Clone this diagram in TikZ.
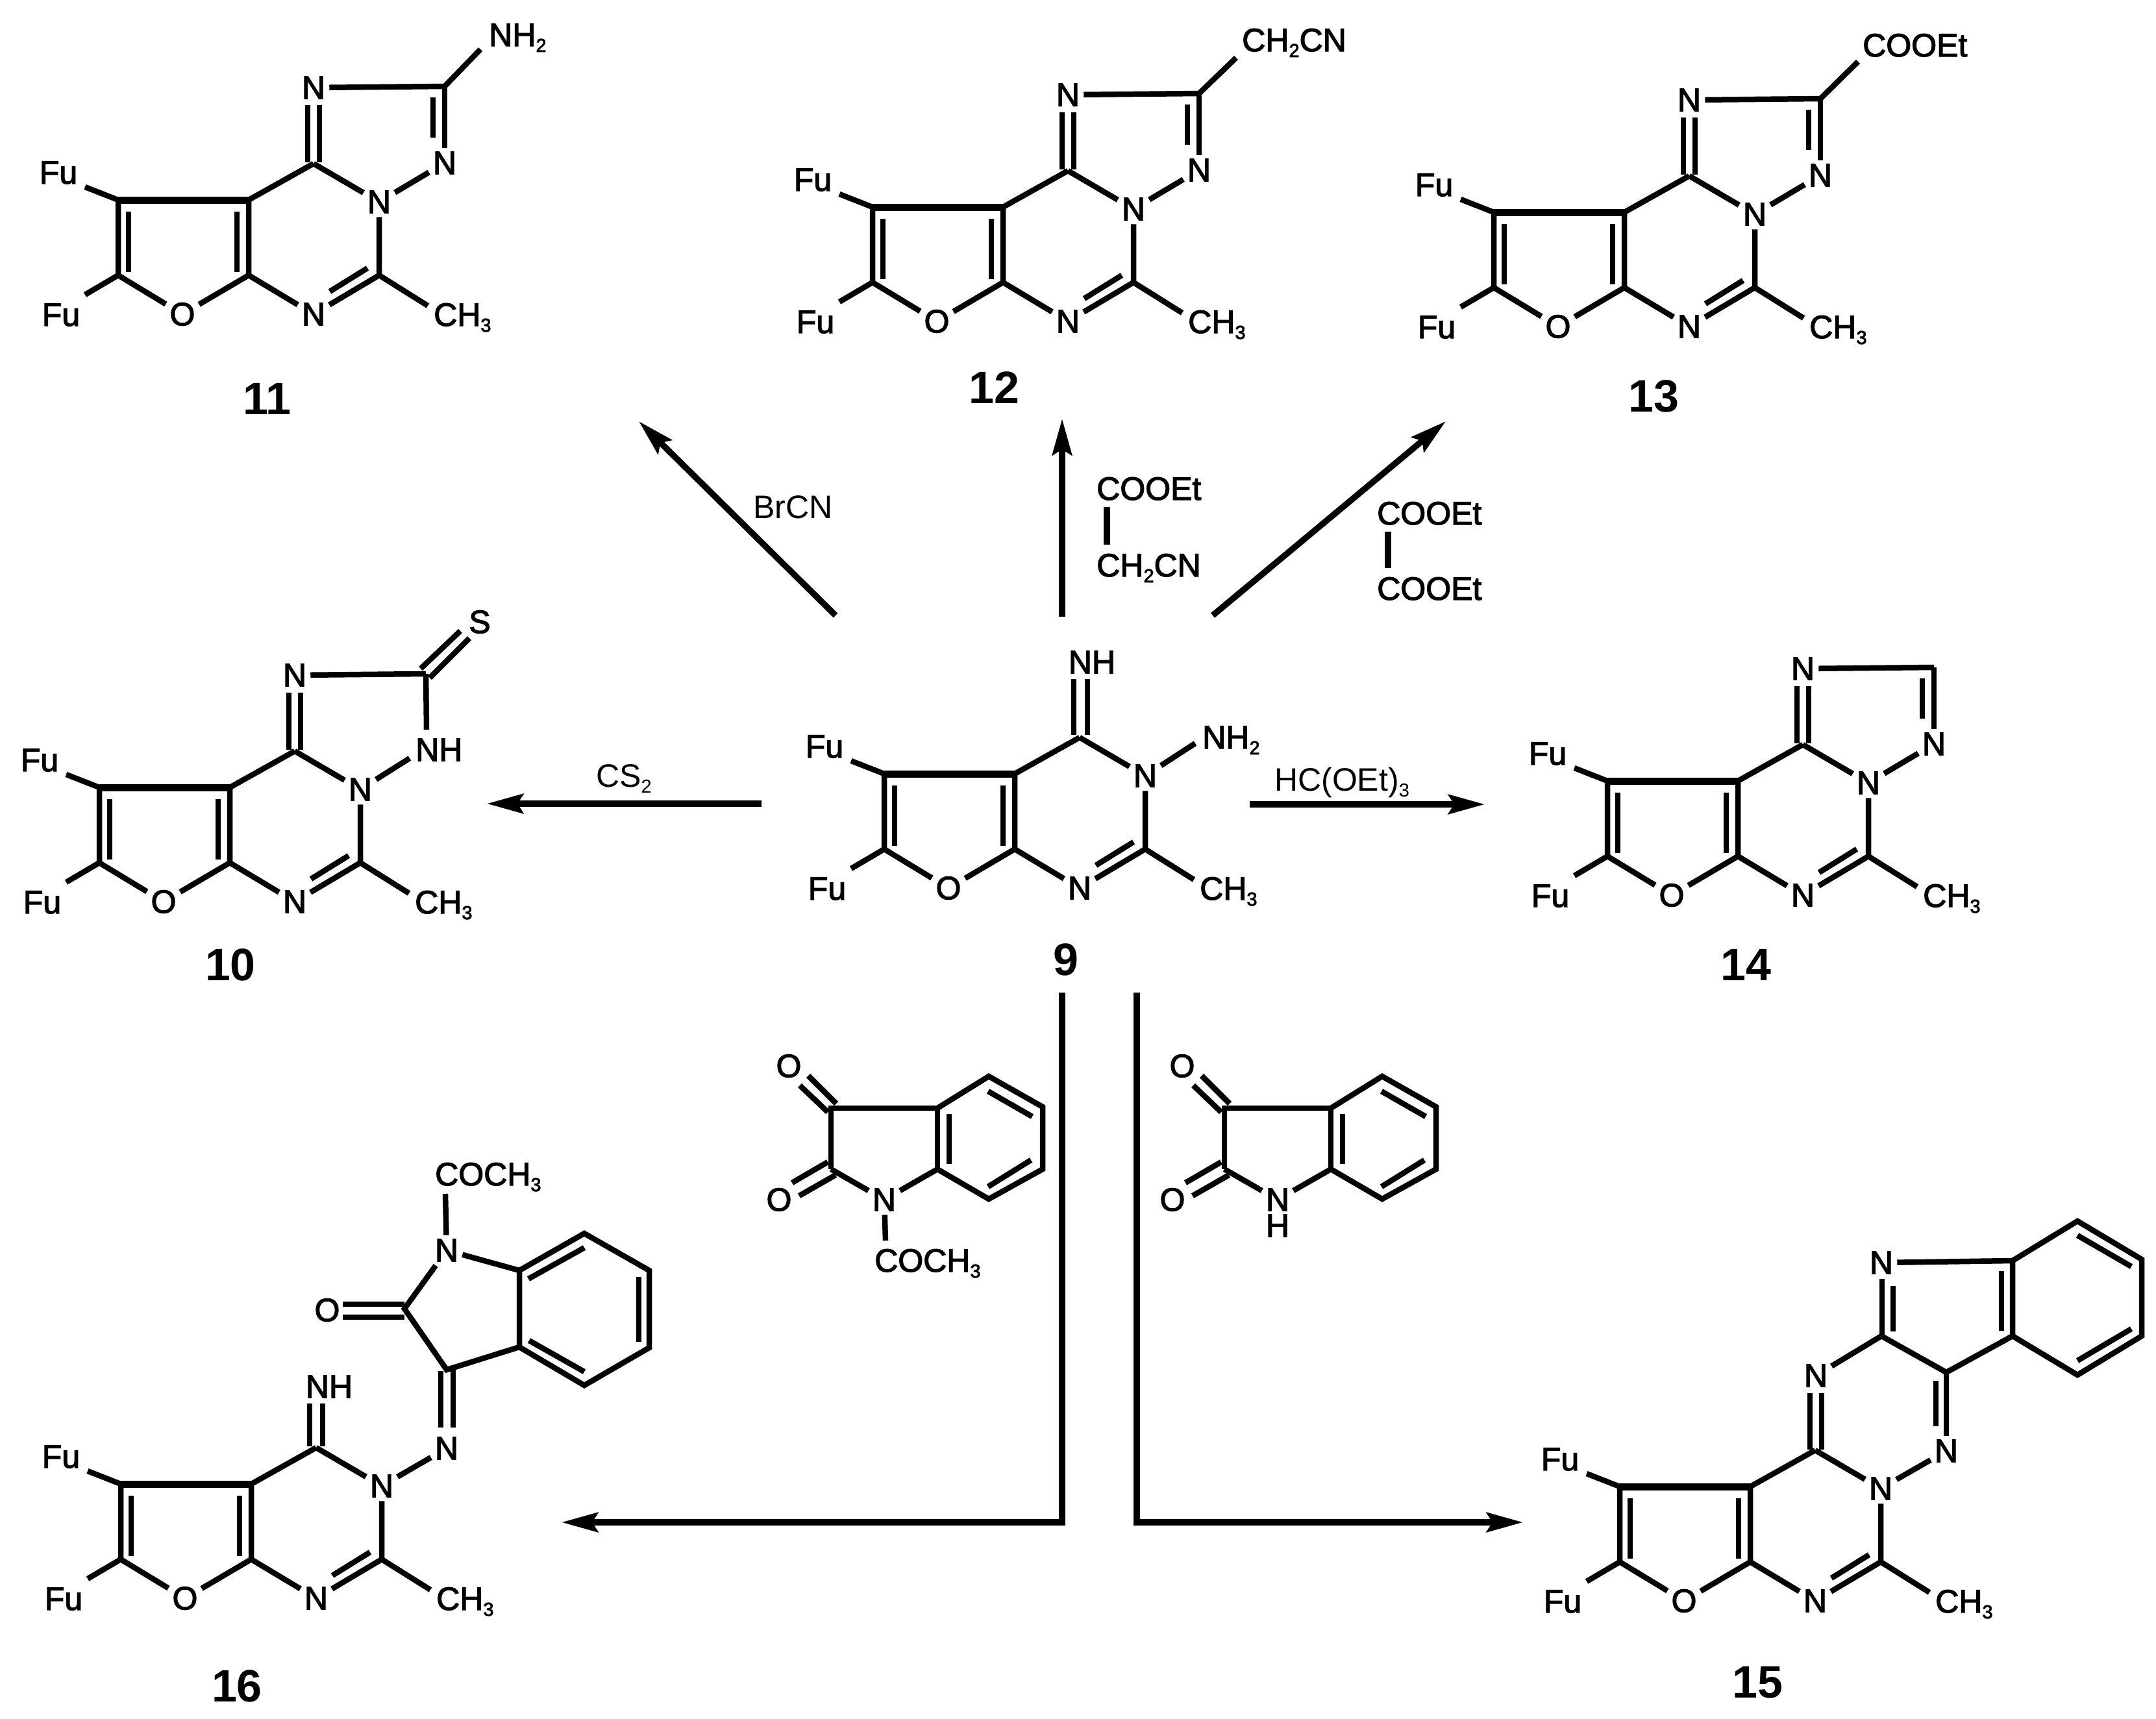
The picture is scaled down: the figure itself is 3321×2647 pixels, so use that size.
\documentclass[tikz,border=0pt]{standalone}
\usepackage{fontspec}
\usetikzlibrary{arrows.meta}
\newfontfamily\atomf[FakeBold=2.5]{Liberation Sans}
\newfontfamily\regf{Liberation Sans}
\newfontfamily\numf{Liberation Sans Bold}
\newcommand\lowd[1]{\raisebox{-9pt}{\fontsize{29}{30}\selectfont #1}}
\tikzset{
  bond/.style={line width=8.5pt,line join=miter,line cap=butt},
  heavy/.style={line width=11pt,line join=miter,line cap=butt},
  atom/.style={font=\fontsize{50}{60}\selectfont\atomf,inner sep=6pt},
  lab/.style={font=\fontsize{50}{60}\selectfont\atomf,inner sep=0pt,anchor=base west},
  reag/.style={font=\fontsize{50}{60}\selectfont\regf,inner sep=0pt,anchor=base west},
  num/.style={font=\fontsize{70}{80}\selectfont\numf,inner sep=0pt,anchor=base},
  rxn/.style={line width=9.5pt,line cap=butt,line join=miter,-{Stealth[length=56pt,width=30pt,inset=9pt]}}
}
% furo[2,3-d]pyrimidine core: prefix, x, y of the upper left ring carbon
\newcommand\core[3]{%
\begin{scope}[shift={(#2,#3)}]
  \coordinate (#1a) at (0,0);
  \coordinate (#1b) at (201,0);
  \coordinate (#1c) at (0,116);
  \coordinate (#1d) at (201,116);
  \coordinate (#1e) at (402,116);
  \coordinate (#1f) at (301,-56);
  \coordinate (#1fa) at (-51,-20);
  \coordinate (#1fb) at (-51,146);
  \coordinate (#1me) at (477,163);
  \node[atom] (#1O) at (99,176) {O};
  \node[atom] (#1Nb) at (301,176) {N};
  \node[atom] (#1Nc) at (402,3) {N};
  \node[atom] (#1Fa) at (-92,-42) {Fu};
  \node[atom] (#1Fb) at (-88,177) {Fu};
  \node[lab] (#1Me) at (486,194) {CH\lowd{3}};
  \draw[heavy] (#1a) -- (#1b);
  \draw[bond] (#1fa) -- (#1a) -- (#1c) -- (#1fb);
  \draw[bond] (#1c) -- (#1O);
  \draw[bond] (#1O) -- (#1d) -- (#1Nb);
  \draw[bond] (#1f) -- (#1b) -- (#1d);
  \draw[bond] (#1Nc) -- (#1f);
  \draw[bond] (#1Nc) -- (#1e) -- (#1me);
  \draw[bond] (#1Nb) -- (#1e);
  \draw[bond] (16,18) -- (16,111);
  \draw[bond] (183,18) -- (183,111);
  \draw[bond] (384,105) -- (326,141);
\end{scope}}
% the five-membered ring's upper part: N, C and the C=N double bond
\newcommand\triaz[3]{%
\begin{scope}[shift={(#2,#3)}]
  \node[atom] (#1Nt) at (301,-173) {N};
  \coordinate (#1g) at (503,-175);
  \draw[bond] (292,-58) -- (292,-146);
  \draw[bond] (310,-58) -- (310,-146);
  \draw[bond] (#1Nt) -- (#1g);
\end{scope}}
\newcommand\triazN[3]{%
\begin{scope}[shift={(#2,#3)}]
  \node[atom] (#1Nr) at (503,-57) {N};
  \draw[bond] (#1g) -- (#1Nr);
  \draw[bond] (#1Nc) -- (#1Nr);
  \draw[bond] (485,-158) -- (485,-96);
\end{scope}}
% isatin fragment: prefix, x, y of C3
\newcommand\isatin[3]{%
\begin{scope}[shift={(#2,#3)}]
  \coordinate (#1c3) at (0,0);
  \coordinate (#1c3a) at (164,0);
  \coordinate (#1c2) at (0,94);
  \coordinate (#1c7a) at (164,94);
  \coordinate (#1c4) at (243,-49);
  \coordinate (#1c5) at (326,-2);
  \coordinate (#1c6) at (326,94);
  \coordinate (#1c7) at (243,140);
  \node[atom] (#1N) at (82,141) {N};
  \node[atom] (#1Oa) at (-65,-65) {O};
  \node[atom] (#1Ob) at (-80,141) {O};
  \draw[bond] (#1c2) -- (#1c3) -- (#1c3a) -- (#1c7a);
  \draw[bond] (#1c3a) -- (#1c4) -- (#1c5) -- (#1c6) -- (#1c7) -- (#1c7a);
  \draw[bond] (#1N) -- (#1c2);
  \draw[bond] (#1N) -- (#1c7a);
  \draw[bond] (-35,-50) -- (8,-7);
  \draw[bond] (-48,-35) -- (-5,6);
  \draw[bond] (-60,115) -- (-5,83);
  \draw[bond] (-49,135) -- (7,103);
  \draw[bond] (242,-26) -- (310,13);
  \draw[bond] (308,80) -- (242,121);
  \draw[bond] (182,9) -- (182,86);
\end{scope}}
\begin{document}
\begin{tikzpicture}[x=1pt,y=-1pt]
\path[use as bounding box,fill=white] (0,0) rectangle (3321,2647);

% ---- 11
\core{k}{182}{308}
\triaz{k}{182}{308}
\triazN{k}{182}{308}
\begin{scope}[shift={(182,308)}]
  \node[lab] (kS) at (571,-237) {NH\lowd{2}};
  \coordinate (kse) at (558,-232);
\end{scope}
\draw[bond] (kg) -- (kse);
\node[num] (n11) at (411,638) {11};

% ---- 12
\core{l}{1344}{319}
\triaz{l}{1344}{319}
\triazN{l}{1344}{319}
\begin{scope}[shift={(1344,319)}]
  \node[lab] (lS) at (569,-240) {CH\lowd{2}CN};
  \coordinate (lse) at (560,-230);
\end{scope}
\draw[bond] (lg) -- (lse);
\node[num] (n12) at (1531,621) {12};

% ---- 13
\core{m}{2301}{327}
\triaz{m}{2301}{327}
\triazN{m}{2301}{327}
\begin{scope}[shift={(2301,327)}]
  \node[lab] (mS) at (568,-240) {COOEt};
  \coordinate (mse) at (561,-232);
\end{scope}
\draw[bond] (mg) -- (mse);
\node[num] (n13) at (2547,634) {13};

% ---- 10
\core{t}{153}{1213}
\triaz{t}{153}{1213}
\begin{scope}[shift={(153,1213)}]
  \node[atom] (tS) at (586,-255) {S};
  \node[lab,anchor=west] (tNH) at (487,-58) {NH};
  \coordinate (tgn) at (504,-89);
  \coordinate (tnn) at (478,-45);
  \draw[bond] (tg) -- (tgn);
  \draw[bond] (tNc) -- (tnn);
  \draw[bond] (495,-183) -- (556,-241);
  \draw[bond] (509,-169) -- (570,-230);
\end{scope}
\node[num] (n10) at (355,1510) {10};

% ---- 14
\core{f}{2476}{1203}
\triaz{f}{2476}{1203}
\triazN{f}{2476}{1203}
\node[num] (n14) at (2689,1510) {14};

% ---- 9
\core{s}{1362}{1192}
\begin{scope}[shift={(1362,1192)}]
  \node[atom] (sNH) at (320,-172) {NH};
  \node[lab] (sNH2) at (490,-39) {NH\lowd{2}};
  \coordinate (sne) at (479,-47);
  \draw[bond] (sNc) -- (sne);
  \draw[bond] (292,-60) -- (292,-146);
  \draw[bond] (313,-60) -- (313,-146);
\end{scope}
\node[num] (n9) at (1642,1502) {9};

% ---- 16
\core{x}{186}{2286}
\node[atom] (xNH) at (507,2136) {NH};
\draw[bond] (477,2228) -- (477,2162);
\draw[bond] (497,2228) -- (497,2162);
\node[atom] (xNz) at (688,2231) {N};
\draw[bond] (xNc) -- (xNz);
\coordinate (xc3) at (688,2110);
\coordinate (xc2) at (623,2016);
\coordinate (xc3a) at (800,2075);
\coordinate (xc7a) at (800,1957);
\coordinate (xc7) at (900,1900);
\coordinate (xc6) at (1000,1957);
\coordinate (xc5) at (1000,2076);
\coordinate (xc4) at (900,2134);
\node[atom] (xO) at (504,2018) {O};
\node[atom] (xN) at (688,1926) {N};
\node[lab] (xAc) at (670,1826) {COCH\lowd{3}};
\coordinate (xace) at (686,1839);
\draw[bond] (xN) -- (xace);
\draw[bond] (xN) -- (xc2) -- (xc3) -- (xc3a) -- (xc7a) -- (xN);
\draw[bond] (xc3a) -- (xc4) -- (xc5) -- (xc6) -- (xc7) -- (xc7a);
\draw[bond] (679,2112) -- (679,2199);
\draw[bond] (698,2110) -- (698,2199);
\draw[bond] (528,2009) -- (623,2009);
\draw[bond] (528,2029) -- (623,2029);
\draw[bond] (814,1970) -- (900,1922);
\draw[bond] (984,1967) -- (984,2067);
\draw[bond] (900,2113) -- (815,2065);
\node[num] (n16) at (365,2621) {16};

% ---- 15
\core{y}{2495}{2290}
\node[atom] (yNt) at (2797,2119) {N};
\node[atom] (yNr) at (2998,2235) {N};
\node[atom] (yNi) at (2898,1945) {N};
\coordinate (yc1) at (2898,2058);
\coordinate (yc2) at (2998,2114);
\coordinate (yc3) at (3100,2058);
\coordinate (yc4) at (3100,1942);
\coordinate (yb1) at (3200,1881);
\coordinate (yb2) at (3299,1940);
\coordinate (yb3) at (3299,2058);
\coordinate (yb4) at (3200,2118);
\draw[bond] (yNt) -- (yc1) -- (yc2) -- (yc3) -- (yc4) -- (yNi);
\draw[bond] (yc4) -- (yb1) -- (yb2) -- (yb3) -- (yb4) -- (yc3);
\draw[bond] (yc2) -- (yNr);
\draw[bond] (yNc) -- (yNr);
\draw[bond] (2788,2233) -- (2788,2146);
\draw[bond] (2806,2233) -- (2806,2146);
\draw[bond] (2899,2058) -- (2899,1970);
\draw[bond] (2916,2051) -- (2916,1981);
\draw[bond] (2982,2127) -- (2982,2197);
\draw[bond] (3083,1958) -- (3083,2050);
\draw[bond] (3200,1903) -- (3283,1951);
\draw[bond] (3200,2096) -- (3283,2047);
\node[num] (n15) at (2707,2615) {15};

% ---- reagents
\isatin{p}{1280}{1707}
\begin{scope}[shift={(1280,1707)}]
  \node[lab] (pAc) at (67,252) {COCH\lowd{3}};
  \coordinate (pace) at (84,204);
  \draw[bond] (pN) -- (pace);
\end{scope}
\isatin{q}{1886}{1707}
\node[atom,inner sep=0pt] (qH) at (1968,1888) {H};

\node[lab] (r1) at (1689,770) {COOEt};
\node[lab] (r2) at (1689,888) {CH\lowd{2}CN};
\coordinate (r1b) at (1705,781);
\coordinate (r2b) at (1705,839);
\draw[bond,line width=9.5pt] (r1b) -- (r2b);
\node[lab] (r3) at (2121,808) {COOEt};
\node[lab] (r4) at (2121,924) {COOEt};
\coordinate (r3b) at (2138,819);
\coordinate (r4b) at (2138,875);
\draw[bond,line width=9.5pt] (r3b) -- (r4b);

\node[reag] (tBr) at (1160,798) {BrCN};
\node[reag] (tCS) at (918,1212) {CS\lowd{2}};
\node[reag] (tHC) at (1963,1218) {HC(OEt)\lowd{3}};

% ---- arrows
\coordinate (a1s) at (1287,948);
\coordinate (a1e) at (984,649);
\coordinate (a2s) at (1636,950);
\coordinate (a2e) at (1636,645);
\coordinate (a3s) at (1868,948);
\coordinate (a3e) at (2227,649);
\coordinate (a4s) at (1173,1238);
\coordinate (a4e) at (750,1238);
\coordinate (a5s) at (1925,1239);
\coordinate (a5e) at (2287,1239);
\coordinate (a6s) at (1636,1529);
\coordinate (a6m) at (1636,2345);
\coordinate (a6e) at (865,2345);
\coordinate (a7s) at (1751,1529);
\coordinate (a7m) at (1751,2345);
\coordinate (a7e) at (2346,2345);
\draw[rxn] (a1s) -- (a1e);
\draw[rxn] (a2s) -- (a2e);
\draw[rxn] (a3s) -- (a3e);
\draw[rxn] (a4s) -- (a4e);
\draw[rxn] (a5s) -- (a5e);
\draw[rxn] (a6s) -- (a6m) -- (a6e);
\draw[rxn] (a7s) -- (a7m) -- (a7e);
\end{tikzpicture}
\end{document}
